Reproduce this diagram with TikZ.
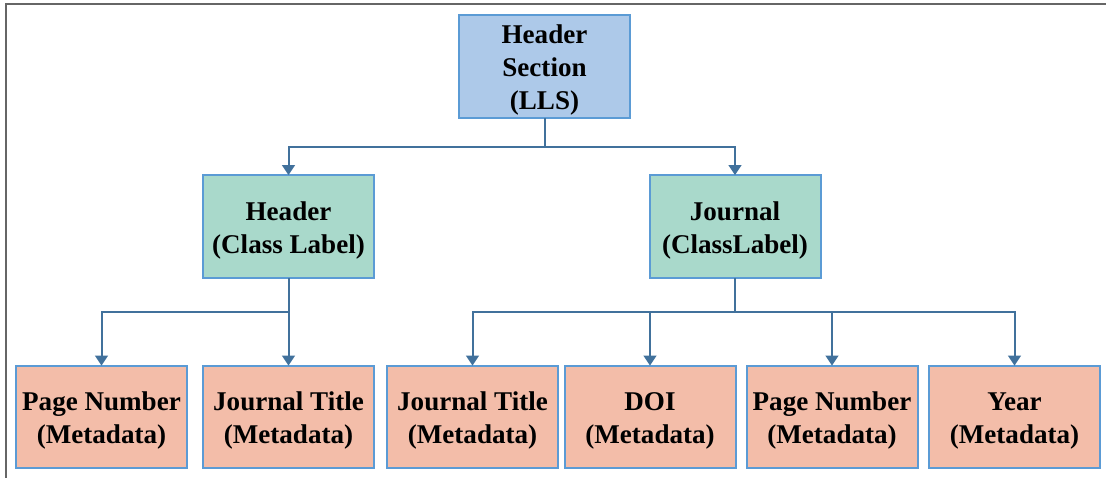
\documentclass[tikz,border=0pt]{standalone}
\usepackage{fontspec}
\setmainfont{Liberation Serif}
\usetikzlibrary{arrows.meta}
\definecolor{boxedge}{HTML}{5B9BD5}
\definecolor{wire}{HTML}{41719C}
\definecolor{rootfill}{HTML}{ADC9E9}
\definecolor{classfill}{HTML}{A9D9CB}
\definecolor{metafill}{HTML}{F3BDA9}
\definecolor{framegray}{HTML}{666666}
\tikzset{
  card/.style={draw=boxedge, line width=1.5pt, inner sep=0pt, outer sep=0pt,
    minimum width=128.25pt, minimum height=77pt},
  % box caption, set a little below the box centre
  caption/.style={align=center, inner sep=0pt, yshift=-2.8pt,
    font=\fontsize{20.3}{25}\selectfont\bfseries},
  rootbox/.style={card, fill=rootfill},
  classbox/.style={card, fill=classfill},
  metabox/.style={card, fill=metafill},
  conn/.style={draw=wire, line width=1.5pt, -{Triangle[width=9.5pt,length=7.5pt]}},
  trunk/.style={draw=wire, line width=1.5pt}
}
\begin{document}
\begin{tikzpicture}[x=0.75pt,y=-0.75pt]
  \useasboundingbox (0,0) rectangle (1106,478);
  % window frame: top and left edges only
  \draw[framegray, line width=1.5pt] (5.5,478) -- (5.5,4.5) -- (1106,4.5);

  % root
  \node[rootbox, label={[caption, font=\fontsize{20.3}{24.75}\selectfont\bfseries]center:Header\\Section\\(LLS)}]
    (root) at (544.5,66.5) {};

  % class labels
  \node[classbox, label={[caption]center:Header\\(Class Label)}] (hdr) at (288.5,226.5) {};
  \node[classbox, label={[caption]center:Journal\\(ClassLabel)}] (jrn) at (735,226.5) {};

  % metadata leaves
  \node[metabox, label={[caption]center:Page Number\\(Metadata)}]   (m1) at (101.5,417) {};
  \node[metabox, label={[caption]center:Journal Title\\(Metadata)}] (m2) at (288.5,417) {};
  \node[metabox, label={[caption]center:Journal Title\\(Metadata)}] (m3) at (472.5,417) {};
  \node[metabox, label={[caption]center:DOI\\(Metadata)}]           (m4) at (650,417) {};
  \node[metabox, label={[caption]center:Page Number\\(Metadata)}]   (m5) at (832,417) {};
  \node[metabox, label={[caption]center:Year\\(Metadata)}]          (m6) at (1014.5,417) {};

  % bus junctions
  \coordinate (busR) at (544.5,147);
  \coordinate (busH) at (288.5,312);
  \coordinate (busJ) at (735,312);

  % root to class labels
  \draw[trunk] (root.south) -- (busR);
  \draw[conn] (busR) -| (hdr.north);
  \draw[conn] (busR) -| (jrn.north);

  % header to its metadata
  \draw[trunk] (hdr.south) -- (busH);
  \draw[conn] (busH) -| (m1.north);
  \draw[conn] (busH) -- (m2.north);

  % journal to its metadata
  \draw[trunk] (jrn.south) -- (busJ);
  \draw[conn] (busJ) -| (m3.north);
  \draw[conn] (busJ) -| (m4.north);
  \draw[conn] (busJ) -| (m5.north);
  \draw[conn] (busJ) -| (m6.north);
\end{tikzpicture}
\end{document}
